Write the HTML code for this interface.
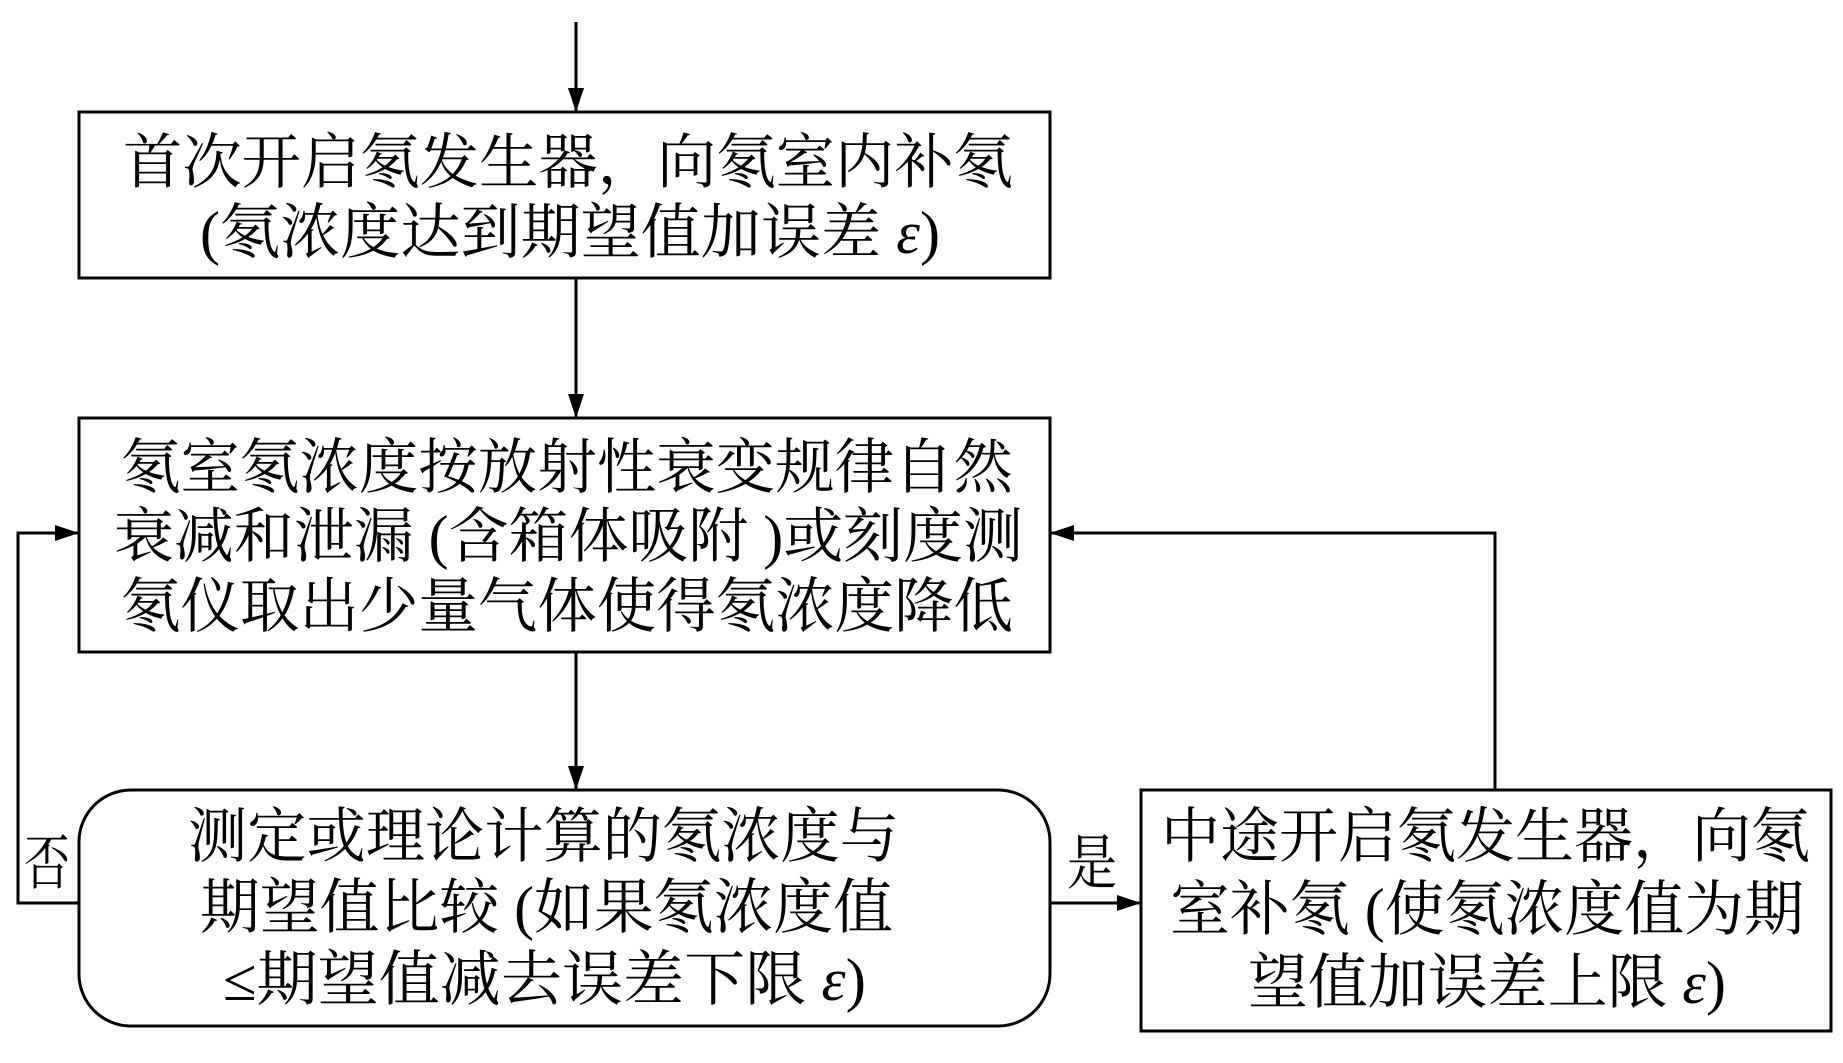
<!DOCTYPE html>
<html><head><meta charset="utf-8"><style>html,body{margin:0;padding:0;background:#fff}svg{display:block}</style></head>
<body>
<svg width="1843" height="1063" viewBox="0 0 1843 1063" xmlns="http://www.w3.org/2000/svg">
<defs><marker id="a" markerWidth="10" markerHeight="10" refX="9" refY="5" orient="auto" markerUnits="userSpaceOnUse"><path d="M0,0 L10,5 L0,10 Z" fill="#000"/></marker>
<marker id="b" viewBox="0 0 10 10" markerWidth="24" markerHeight="16" refX="10" refY="5" orient="auto" markerUnits="userSpaceOnUse" preserveAspectRatio="none"><path d="M0,0 L10,5 L0,10 Z" fill="#000"/></marker></defs>
<g stroke="#000" stroke-width="3" fill="none">
<rect x="79" y="112" width="971" height="166"/>
<rect x="79" y="418" width="971" height="234"/>
<rect x="79" y="790" width="971" height="236" rx="52" ry="52"/>
<rect x="1141" y="790" width="690" height="241"/>
<line x1="576" y1="22" x2="576" y2="112" marker-end="url(#b)"/>
<line x1="576" y1="278" x2="576" y2="418" marker-end="url(#b)"/>
<line x1="576" y1="652" x2="576" y2="790" marker-end="url(#b)"/>
<polyline points="79,903 18,903 18,533 79,533" marker-end="url(#b)"/>
<polyline points="1495,790 1495,533 1050,533" marker-end="url(#b)"/>
<line x1="1050" y1="903" x2="1141" y2="903" marker-end="url(#b)"/>
</g>
<g font-family="'Liberation Serif','Noto Serif CJK SC',serif" font-size="60" fill="#000" lengthAdjust="spacingAndGlyphs">
<text x="123" y="183" textLength="890" lengthAdjust="spacingAndGlyphs">首次开启氡发生器，向氡室内补氡</text>
<text x="200" y="253" textLength="740" lengthAdjust="spacingAndGlyphs">(氡浓度达到期望值加误差 <tspan font-style="italic">ε</tspan>)</text>
<text x="121" y="488" textLength="892" lengthAdjust="spacingAndGlyphs">氡室氡浓度按放射性衰变规律自然</text>
<text x="114" y="557" textLength="909" lengthAdjust="spacingAndGlyphs">衰减和泄漏 (含箱体吸附 )或刻度测</text>
<text x="121" y="627" textLength="892" lengthAdjust="spacingAndGlyphs">氡仪取出少量气体使得氡浓度降低</text>
<text x="188" y="857" textLength="711" lengthAdjust="spacingAndGlyphs">测定或理论计算的氡浓度与</text>
<text x="200" y="928" textLength="693" lengthAdjust="spacingAndGlyphs">期望值比较 (如果氡浓度值</text>
<text x="223" y="1000" textLength="643" lengthAdjust="spacingAndGlyphs">≤期望值减去误差下限 <tspan font-style="italic">ε</tspan>)</text>
<text x="1161" y="857" textLength="649" lengthAdjust="spacingAndGlyphs">中途开启氡发生器，向氡</text>
<text x="1170" y="930" textLength="634" lengthAdjust="spacingAndGlyphs">室补氡 (使氡浓度值为期</text>
<text x="1248" y="1003" textLength="478" lengthAdjust="spacingAndGlyphs">望值加误差上限 <tspan font-style="italic">ε</tspan>)</text>
<text x="24" y="884" textLength="46" lengthAdjust="spacingAndGlyphs">否</text>
<text x="1067" y="884" textLength="50" lengthAdjust="spacingAndGlyphs">是</text>
</g>
</svg>
</body></html>
